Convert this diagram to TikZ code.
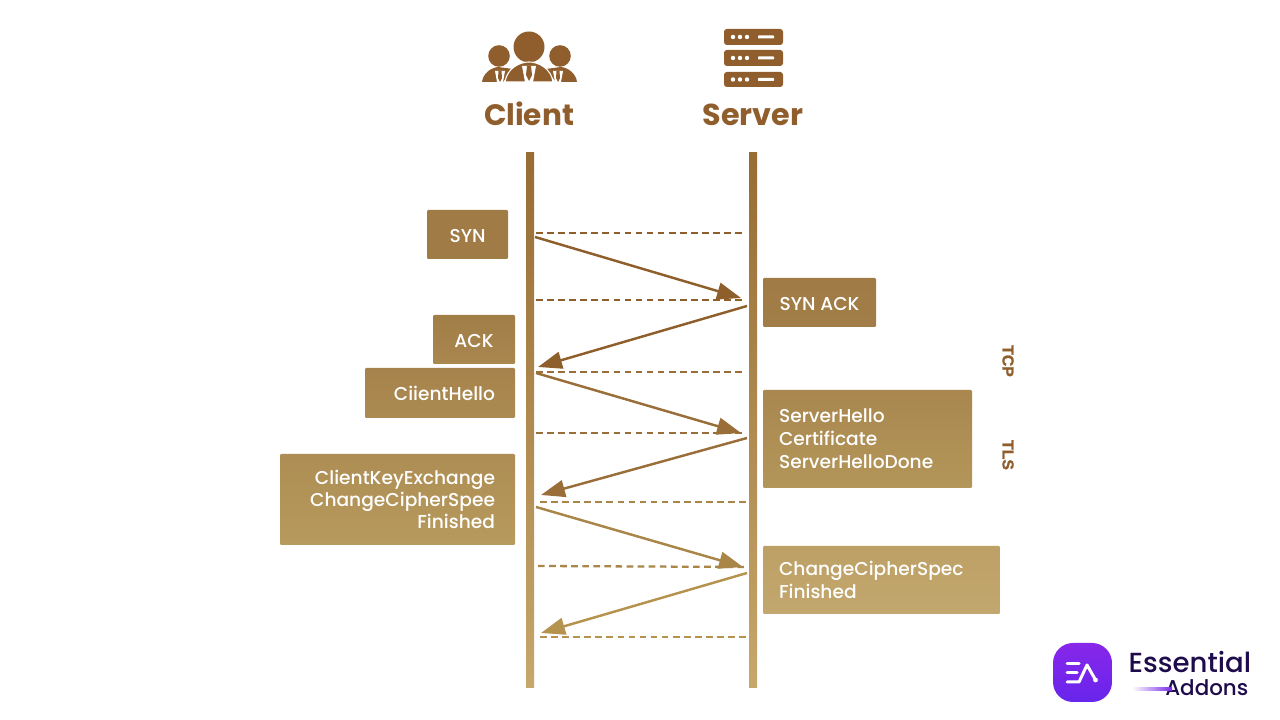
\documentclass[tikz,border=0pt]{standalone}
\usepackage{tikz}
\usepackage{xcolor}
\usepackage{fontspec}
\usetikzlibrary{arrows.meta}
\setmainfont{Poppins}
\newfontfamily\boxfont{Poppins}[UprightFont=*-Medium]
\newfontfamily\sidefont{Liberation Sans}[BoldFeatures={FakeBold=1.5}]

\definecolor{iconbrown}{HTML}{8F5E2C}
\definecolor{lineA}{HTML}{8F5F2B}
\definecolor{lineB}{HTML}{9A6E38}
\definecolor{lineC}{HTML}{A98548}
\definecolor{lineD}{HTML}{B6924F}
\definecolor{lifetop}{HTML}{976C35}
\definecolor{lifebot}{HTML}{C6A76C}
\definecolor{boxA}{HTML}{A07B45}
\definecolor{boxB}{HTML}{A9874F}
\definecolor{boxC}{HTML}{B39659}
\definecolor{boxD}{HTML}{BDA065}
\definecolor{boxE}{HTML}{C2A76E}
\definecolor{eadark}{HTML}{1E0B4B}
\definecolor{eapurple}{HTML}{7A2BE8}

\begin{document}
\begin{tikzpicture}[
    boxlabel/.style={inner xsep=0.16cm, inner ysep=0pt, text=white,
        font=\boxfont\fontsize{5.3}{6.5}\selectfont, rounded corners=0.3pt},
    message/.style={line width=0.7pt, -{Triangle[length=0.24cm, width=0.17cm]}},
    guide/.style={line width=0.65pt, dash pattern=on 1.9pt off 1.25pt},
    lifeline/.style={minimum width=0.08cm, minimum height=5.35cm, inner sep=0pt,
        top color=lifetop, bottom color=lifebot},
]

\useasboundingbox (0, 0) rectangle (12.8, 7.2);

% Headings
\node[anchor=base, font=\bfseries\fontsize{8.4}{10}\selectfont, text=iconbrown] (client) at (5.29, 5.94) {Client};
\node[anchor=base, font=\bfseries\fontsize{8.6}{10}\selectfont, text=iconbrown] (server) at (7.53, 5.94) {Server};

% Client icon
\fill[iconbrown] (5.29, 6.73) circle (0.155);
\fill[iconbrown] (4.99, 6.64) circle (0.108);
\fill[iconbrown] (5.60, 6.64) circle (0.108);
\fill[iconbrown] (4.82, 6.38) .. controls (4.83, 6.46) and (4.90, 6.52) .. (4.98, 6.53)
    -- (5.13, 6.51) -- (5.03, 6.38) -- cycle;
\fill[iconbrown] (5.77, 6.38) .. controls (5.76, 6.46) and (5.69, 6.52) .. (5.61, 6.53)
    -- (5.46, 6.51) -- (5.56, 6.38) -- cycle;
\fill[iconbrown, draw=white, line width=0.3pt] (5.05, 6.38) .. controls (5.07, 6.52) and (5.20, 6.58) .. (5.29, 6.58)
    .. controls (5.38, 6.58) and (5.51, 6.52) .. (5.53, 6.38) -- cycle;
\fill[white] (5.22, 6.54) -- (5.36, 6.54) -- (5.33, 6.38) -- (5.25, 6.38) -- cycle;
\fill[iconbrown] (5.27, 6.54) -- (5.31, 6.54) -- (5.32, 6.45) -- (5.29, 6.39) -- (5.26, 6.45) -- cycle;
\fill[white] (4.95, 6.49) -- (5.05, 6.49) -- (5.03, 6.38) -- (4.97, 6.38) -- cycle;
\fill[iconbrown] (4.985, 6.49) -- (5.015, 6.49) -- (5.02, 6.42) -- (5.00, 6.38) -- (4.98, 6.42) -- cycle;
\fill[white] (5.53, 6.49) -- (5.63, 6.49) -- (5.61, 6.38) -- (5.55, 6.38) -- cycle;
\fill[iconbrown] (5.565, 6.49) -- (5.595, 6.49) -- (5.60, 6.42) -- (5.58, 6.38) -- (5.56, 6.42) -- cycle;

% Server icon
\fill[iconbrown, rounded corners=0.8pt] (7.24, 6.75) rectangle (7.83, 6.91);
\fill[iconbrown, rounded corners=0.8pt] (7.24, 6.54) rectangle (7.83, 6.70);
\fill[iconbrown, rounded corners=0.8pt] (7.24, 6.33) rectangle (7.83, 6.48);
\fill[white] (7.33, 6.83) circle (0.022) (7.40, 6.83) circle (0.022) (7.47, 6.83) circle (0.022);
\fill[white] (7.33, 6.62) circle (0.022) (7.40, 6.62) circle (0.022) (7.47, 6.62) circle (0.022);
\fill[white] (7.33, 6.405) circle (0.022) (7.40, 6.405) circle (0.022) (7.47, 6.405) circle (0.022);
\fill[white, rounded corners=0.2pt] (7.58, 6.815) rectangle (7.74, 6.845);
\fill[white, rounded corners=0.2pt] (7.58, 6.605) rectangle (7.74, 6.635);
\fill[white, rounded corners=0.2pt] (7.58, 6.39) rectangle (7.74, 6.42);

% Lifelines
\node[lifeline] (clientline) at (5.30, 2.995) {};
\node[lifeline] (serverline) at (7.53, 2.995) {};

% Client labels
\node[boxlabel, top color=boxA, bottom color=boxA!95!boxB, minimum width=0.81cm, minimum height=0.49cm] (syn) at (4.675, 4.855) {\raisebox{0pt}[0.17cm][0cm]{SYN}};
\node[boxlabel, top color=boxA!80!boxB, bottom color=boxB, minimum width=0.82cm, minimum height=0.49cm] (ack) at (4.74, 3.805) {\raisebox{0pt}[0.17cm][0cm]{ACK}};
\node[boxlabel, top color=boxA!40!boxB, bottom color=boxB!70!boxC, minimum width=1.50cm, minimum height=0.50cm, align=right, text width=1.10cm, inner xsep=0.2cm] (clienthello) at (4.40, 3.27) {CiientHello};
\node[boxlabel, top color=boxB!60!boxC, bottom color=boxC!60!boxD, minimum height=0.91cm, align=right, text width=1.95cm, inner xsep=0.2cm] (clientkey) at (3.975, 2.205) {ClientKeyExchange\\[-0.25pt]ChangeCipherSpee\hspace*{0.04cm}\\[-0.25pt]Finished};

% Server labels
\node[boxlabel, top color=boxA, bottom color=boxA!80!boxB, minimum width=1.13cm, minimum height=0.49cm] (synack) at (8.195, 4.175) {\raisebox{0pt}[0.17cm][0cm]{SYN ACK}};
\node[boxlabel, top color=boxB, bottom color=boxC, minimum height=0.98cm, align=left, text width=1.77cm] (serverhello) at (8.675, 2.81) {ServerHello\\Certificate\\ServerHelloDone};
\node[boxlabel, top color=boxD, bottom color=boxE, minimum height=0.68cm, align=left, text width=2.05cm] (changecipher) at (8.815, 1.40) {ChangeCipherSpec\\Finished};

% Side labels
\node[font=\sidefont\bfseries\fontsize{4.5}{5}\selectfont, text=iconbrown, rotate=-90] (tcp) at (10.08, 3.59) {TCP};
\node[font=\sidefont\bfseries\fontsize{4.5}{5}\selectfont, text=iconbrown, rotate=-90] (tls) at (10.08, 2.65) {TLS};

% Ends of the connectors
\coordinate (a1) at (5.35, 4.83);
\coordinate (a2) at (7.41, 4.22);
\coordinate (b1) at (7.47, 4.14);
\coordinate (b2) at (5.38, 3.53);
\coordinate (c1) at (5.36, 3.47);
\coordinate (c2) at (7.41, 2.87);
\coordinate (d1) at (7.47, 2.82);
\coordinate (d2) at (5.41, 2.25);
\coordinate (e1) at (5.36, 2.13);
\coordinate (e2) at (7.43, 1.53);
\coordinate (f1) at (7.47, 1.47);
\coordinate (f2) at (5.41, 0.87);

\coordinate (g1l) at (5.36, 4.87);
\coordinate (g1r) at (7.42, 4.87);
\coordinate (g2l) at (5.36, 4.20);
\coordinate (g2r) at (7.42, 4.20);
\coordinate (g3l) at (5.36, 3.48);
\coordinate (g3r) at (7.42, 3.48);
\coordinate (g4l) at (5.36, 2.87);
\coordinate (g4r) at (7.42, 2.87);
\coordinate (g5l) at (5.40, 2.18);
\coordinate (g5r) at (7.46, 2.18);
\coordinate (g6l) at (5.38, 1.54);
\coordinate (g6r) at (7.44, 1.53);
\coordinate (g7l) at (5.40, 0.83);
\coordinate (g7r) at (7.47, 0.83);

% Dashed rows
\draw[guide, lineA] (g1l) -- (g1r);
\draw[guide, lineA] (g2l) -- (g2r);
\draw[guide, lineB] (g3l) -- (g3r);
\draw[guide, lineB] (g4l) -- (g4r);
\draw[guide, lineC] (g5l) -- (g5r);
\draw[guide, lineC] (g6l) -- (g6r);
\draw[guide, lineD] (g7l) -- (g7r);

% Messages
\draw[message, lineA] (a1) -- (a2);
\draw[message, lineA] (b1) -- (b2);
\draw[message, lineB] (c1) -- (c2);
\draw[message, lineB] (d1) -- (d2);
\draw[message, lineC] (e1) -- (e2);
\draw[message, lineD] (f1) -- (f2);

% Logo
\shade[rounded corners=0.2cm, top color=eapurple!90!magenta, bottom color=eapurple!85!blue] (10.53, 0.18) rectangle (11.12, 0.77);
\draw[white, line width=0.85pt, line cap=round] (10.67, 0.56) -- (10.79, 0.56);
\draw[white, line width=0.85pt, line cap=round] (10.67, 0.47) -- (10.77, 0.47);
\draw[white, line width=0.85pt, line cap=round, line join=round] (10.67, 0.38) -- (10.79, 0.38) -- (10.87, 0.55) -- (10.95, 0.41);
\fill[white] (10.955, 0.40) circle (0.024);
\node[anchor=west, inner sep=0pt, text=eadark, font=\boxfont\fontsize{7.85}{9}\selectfont] (essential) at (11.28, 0.575) {Essential};
\node[anchor=east, inner sep=0pt, text=eadark, font=\boxfont\fontsize{6.1}{7}\selectfont] (addons) at (12.49, 0.32) {Addons};
\shade[left color=white, right color=eapurple] (11.32, 0.295) rectangle (11.72, 0.32);

\end{tikzpicture}
\end{document}
